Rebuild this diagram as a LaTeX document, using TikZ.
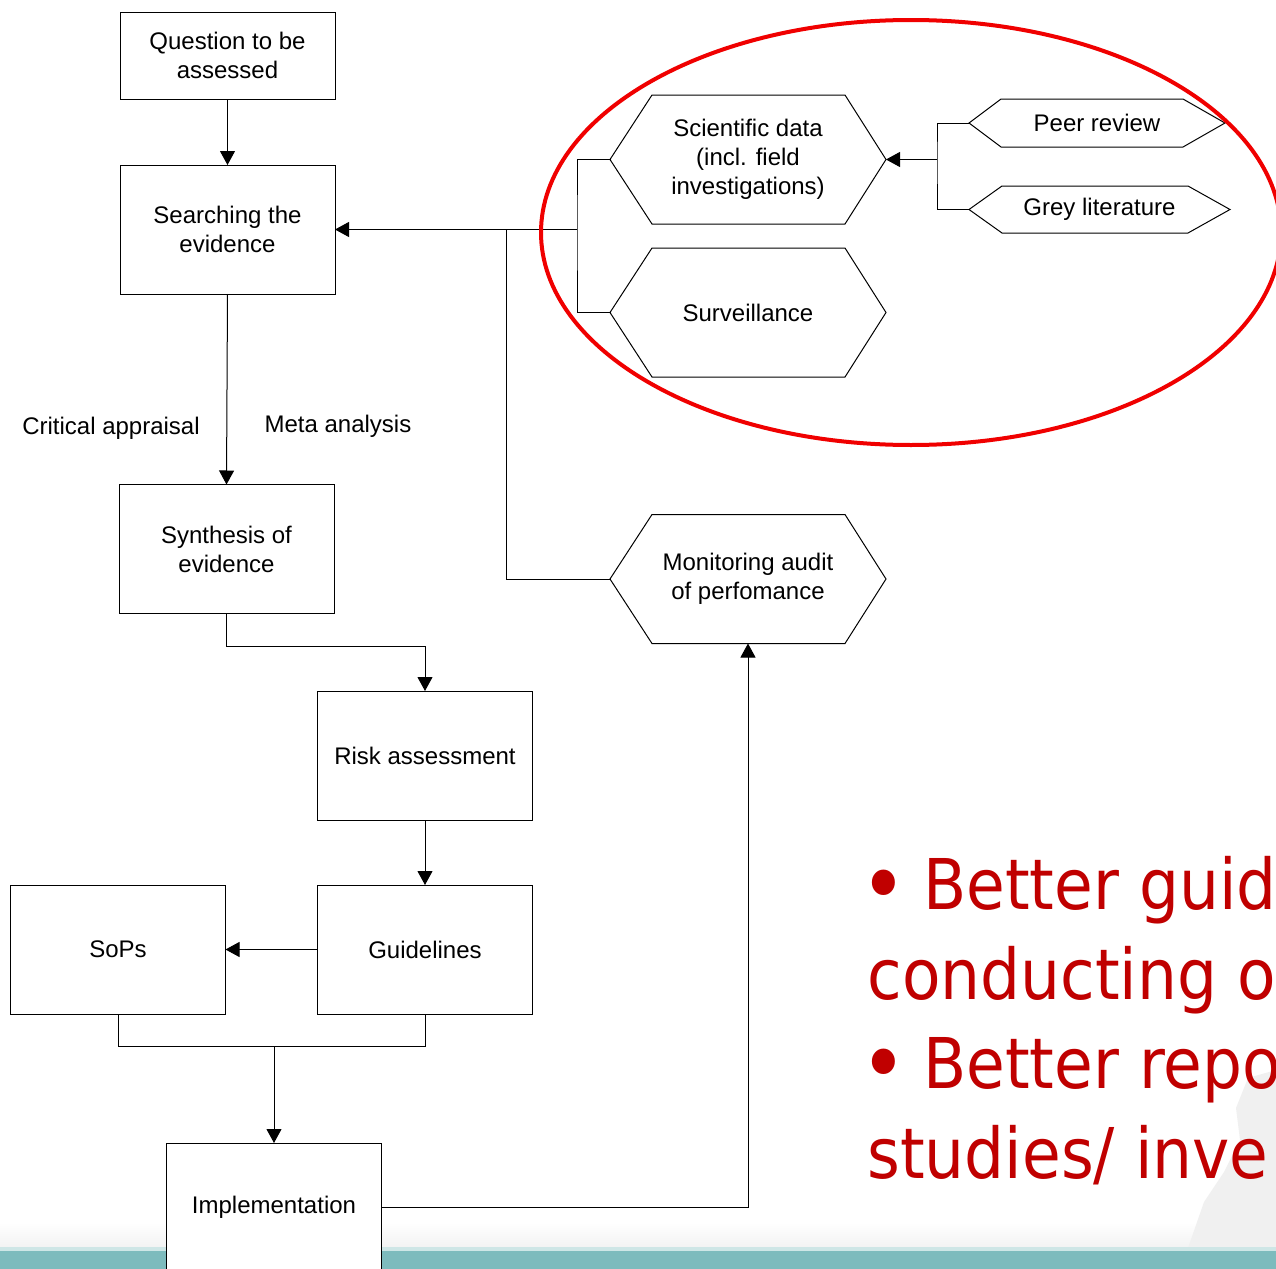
\documentclass[tikz,border=0pt]{standalone}
\usepackage{fontspec}
\setmainfont{Liberation Sans}
\newfontfamily\bulletfont{DejaVu Sans}
\usetikzlibrary{arrows.meta}

\definecolor{stripteal}{RGB}{125,187,189}
\definecolor{stripedge}{RGB}{206,230,230}
\definecolor{bullred}{RGB}{192,0,0}
\definecolor{ringred}{RGB}{240,0,0}
\definecolor{watermark}{RGB}{240,240,240}

\tikzset{
  box/.style={draw=black, line width=0.5pt, fill=white, outer sep=0pt,
    minimum width=107.5pt, minimum height=64.5pt, align=center,
    font=\fontsize{12pt}{14.5pt}\selectfont},
  hexnode/.style={outer sep=0pt, inner sep=0pt, align=center,
    font=\fontsize{12pt}{14.5pt}\selectfont},
  hexline/.style={draw=black, line width=0.5pt},
  link/.style={draw=black, line width=0.5pt},
  arr/.style={link, -{Triangle[length=7pt, width=7.5pt]}},
  lbl/.style={font=\fontsize{12pt}{14.5pt}\selectfont},
  bul/.style={anchor=base west, text=bullred, inner sep=0pt, xscale=0.9,
    font=\bulletfont\fontsize{35pt}{42pt}\selectfont}
}

% bigger bullet glyph for the red list
\newcommand\bigbul{\raisebox{-3pt}{\fontsize{44pt}{44pt}\selectfont •}\hspace{9pt}}

% hexagon outline around a named node: left and right point insets
\newcommand\hexoutline[3]{%
  \draw[hexline] (#1.west) -- ([xshift=#2]#1.north west) -- ([xshift=-#3]#1.north east)
    -- (#1.east) -- ([xshift=-#3]#1.south east) -- ([xshift=#2]#1.south west) -- cycle;}

\begin{document}
\begin{tikzpicture}[x=0.5pt, y=-0.5pt]
\useasboundingbox (0,0) rectangle (1276,1269);
\clip (0,0) rectangle (1276,1269);

% page background and footer band
\fill[white] (0,0) rectangle (1276,1269);
\shade[top color=white, bottom color=gray!10] (0,1222) rectangle (1276,1248);
\fill[watermark] (1276,1070) -- (1248,1078) -- (1236,1108) -- (1240,1140)
  -- (1224,1172) -- (1204,1202) -- (1188,1248) -- (1276,1248) -- cycle;
\fill[stripedge] (0,1247) rectangle (1276,1251);
\fill[stripteal] (0,1251) rectangle (1276,1269);

% red bullet text
\node[bul] (b1) at (860,909) {\bigbul Better guid};
\node[bul] (b2) at (867,999) {conducting o};
\node[bul] (b3) at (860,1088) {\bigbul Better repo};
\node[bul] (b4) at (867,1178) {studies/ inve};

% main flow boxes
\node[box, minimum height=43.5pt] (quest) at (227.5,55.5) {Question to be\\assessed};
\node[box] (search) at (227.5,229.5) {Searching the\\evidence};
\node[box] (synth) at (226.5,549) {Synthesis of\\evidence};
\node[box] (risk) at (425,755.5) {Risk assessment};
\node[box] (guide) at (425,949.5) {Guidelines};
\node[box] (sops) at (118,949.5) {SoPs};
\node[box] (impl) at (274,1207.5) {Implementation};

% evidence sources
\node[hexnode, minimum width=138pt, minimum height=64.5pt] (sci) at (748,159.5)
  {Scientific data\\(incl. field\\investigations)};
\node[hexnode, minimum width=138pt, minimum height=64.5pt] (surv) at (748,312.5) {Surveillance};
\node[hexnode, minimum width=138pt, minimum height=64.5pt] (mon) at (748,579)
  {Monitoring audit\\of perfomance};
\node[hexnode, minimum width=128pt, minimum height=24pt] (peer) at (1097,123) {Peer review};
\node[hexnode, minimum width=130.5pt, minimum height=23.5pt] (grey) at (1099.5,209.5) {Grey literature};
\hexoutline{sci}{21pt}{20.5pt}
\hexoutline{surv}{21pt}{20.5pt}
\hexoutline{mon}{21pt}{20.5pt}
\hexoutline{peer}{16pt}{21pt}
\hexoutline{grey}{16.5pt}{21pt}

% labels on the appraisal step
\node[lbl] (crit) at (111,428) {Critical appraisal};
\node[lbl] (meta) at (338,426) {Meta analysis};

% junction points
\coordinate (bk) at (577,229.5);
\coordinate (pk) at (937,159.5);
\coordinate (mj) at (506,229.5);
\coordinate (mg) at (274,1046);

% connectors
\draw[arr] (quest.south) -- (search.north);
\draw[arr] (search.south) -- (synth.north);
\draw[arr] (synth.south) -- ++(0,33) -| (risk.north);
\draw[arr] (risk.south) -- (guide.north);
\draw[arr] (guide.west) -- (sops.east);
\draw[link] (sops.south) |- (mg);
\draw[link] (guide.south) |- (mg);
\draw[arr] (mg) -- (impl.north);
\draw[arr] (impl.east) -| (mon.south);
\draw[link] (mon.west) -| (mj);
\draw[link] (sci.west) -| (bk) |- (surv.west);
\draw[arr] (bk) -- (search.east);
\draw[link] (peer.west) -| (pk) |- (grey.west);
\draw[arr] (pk) -- (sci.east);

% highlight ring
\draw[ringred, line width=2pt] (911,232.5) ellipse [x radius=370, y radius=212.5];
\end{tikzpicture}
\end{document}
